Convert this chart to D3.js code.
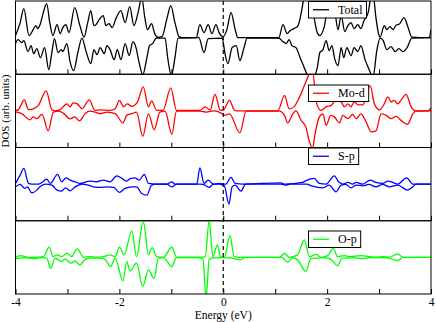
<!DOCTYPE html>
<html><head><meta charset="utf-8">
<script src="https://cdn.jsdelivr.net/npm/d3@7"></script>
<style>html,body{margin:0;padding:0;background:#fff;} svg{display:block;font-family:"Liberation Serif","Times New Roman",serif;}</style>
</head><body><svg id="c" width="436" height="322"></svg>
<script>
// ---------- data ----------
const xTicks = [-4, -3, -2, -1, 0, 1, 2, 3, 4];
const xLabels = [-4, -2, 0, 2, 4];
const panelNames = ["Total", "Mo-d", "S-p", "O-p"];
const panelColors = ["#000000", "#ff0000", "#0000ff", "#00ff00"];
const xTitle = "Energy (eV)";
const yTitle = "DOS (arb. units)";

// [energy (eV), DOS (arb. units)] ; "Down" arrays hold the spin-down magnitudes
const totalUp = [[-4.00,0.2],[-3.91,1.5],[-3.84,2.9],[-3.74,0.2],[-3.66,0.8],[-3.61,1.2],[-3.57,0.9],[-3.52,1.4],[-3.46,2.6],[-3.40,3.4],[-3.34,1.5],[-3.28,0.2],[-3.20,1.3],[-3.14,0.4],[-3.09,1.0],[-3.03,1.3],[-2.97,0.5],[-2.86,3.0],[-2.76,1.2],[-2.68,0.05],[-2.61,1.5],[-2.55,2.7],[-2.49,1.2],[-2.45,1.3],[-2.39,1.8],[-2.31,2.2],[-2.26,1.2],[-2.20,1.4],[-2.14,1.0],[-2.06,2.0],[-1.97,2.7],[-1.89,1.5],[-1.80,3.1],[-1.72,1.2],[-1.64,2.5],[-1.57,4.0],[-1.51,2.0],[-1.46,0.8],[-1.38,1.4],[-1.32,0.4],[-1.26,0.03],[-1.18,0.1],[-1.08,2.0],[-1.01,3.2],[-0.93,1.5],[-0.85,0.1],[-0.79,0],[-0.52,0],[-0.45,1.3],[-0.37,0.5],[-0.29,1.3],[-0.22,0.4],[-0.14,1.3],[-0.08,0.5],[0.00,0.1],[0.07,0.8],[0.15,2.5],[0.23,0.8],[0.28,0],[1.07,0],[1.15,1.3],[1.23,0.4],[1.29,0.7],[1.36,0.9],[1.44,1.2],[1.52,3.0],[1.57,4.5],[1.67,5.0],[1.75,2.0],[1.81,0.5],[1.86,0.2],[1.94,1.0],[2.02,3.0],[2.08,2.4],[2.13,3.0],[2.21,0.8],[2.27,2.2],[2.34,0.6],[2.40,1.2],[2.46,1.5],[2.52,0.9],[2.59,1.3],[2.65,0.9],[2.71,1.7],[2.79,2.5],[2.84,4.0],[2.88,4.5],[2.94,2.0],[3.00,0.2],[3.02,0.05],[3.10,1.2],[3.15,0.8],[3.21,1.1],[3.27,0.8],[3.32,1.2],[3.40,1.4],[3.48,2.0],[3.56,1.0],[3.63,0.05],[3.96,0],[4.00,0.8]];
const totalDown = [[-4.00,0.6],[-3.95,0.2],[-3.88,0.5],[-3.84,0.3],[-3.76,1.4],[-3.70,0.8],[-3.65,1.6],[-3.59,1.1],[-3.52,2.0],[-3.44,1.0],[-3.36,3.2],[-3.30,1.5],[-3.25,0.1],[-3.18,1.5],[-3.12,1.2],[-3.09,1.4],[-3.01,0.6],[-2.95,2.4],[-2.88,3.3],[-2.80,1.5],[-2.72,0.05],[-2.64,1.4],[-2.55,2.6],[-2.49,1.2],[-2.43,1.7],[-2.37,1.0],[-2.29,1.6],[-2.24,0.8],[-2.18,1.2],[-2.10,2.2],[-2.04,1.2],[-1.97,2.2],[-1.89,0.6],[-1.81,1.8],[-1.74,0.4],[-1.68,1.0],[-1.62,2.5],[-1.55,3.7],[-1.47,2.0],[-1.42,0.8],[-1.36,0.6],[-1.29,0.05],[-1.12,0.05],[-1.07,2.0],[-1.00,3.8],[-0.93,2.0],[-0.87,0.05],[-0.47,0],[-0.37,1.5],[-0.29,0.1],[-0.02,0.05],[0.03,1.5],[0.09,2.6],[0.17,1.0],[0.25,0.8],[0.32,2.3],[0.40,1.0],[0.46,0.05],[1.07,0.05],[1.15,0.4],[1.21,0.6],[1.27,0.2],[1.32,0.8],[1.40,1.0],[1.48,2.0],[1.56,3.0],[1.63,3.8],[1.73,4.0],[1.81,3.0],[1.86,1.5],[1.92,1.2],[1.98,0.3],[2.04,1.3],[2.09,0.8],[2.15,2.2],[2.21,2.8],[2.27,1.0],[2.32,2.0],[2.38,1.0],[2.46,1.8],[2.52,1.0],[2.59,1.4],[2.65,0.8],[2.73,2.2],[2.81,3.2],[2.88,4.0],[2.96,1.2],[3.02,0.05],[3.08,0.3],[3.15,1.2],[3.23,0.9],[3.31,1.4],[3.38,1.1],[3.46,1.4],[3.54,1.0],[3.63,0.05],[4.00,0]];
const modUp = [[-4.00,0.03],[-3.95,0.1],[-3.83,1.1],[-3.75,0.12],[-3.66,0.2],[-3.56,0.55],[-3.41,2.0],[-3.30,0.12],[-3.24,0],[-3.14,0.12],[-3.01,0.7],[-2.95,0.4],[-2.89,0.8],[-2.81,0.7],[-2.72,0.22],[-2.58,1.1],[-2.47,0.05],[-2.37,0.1],[-2.18,0.05],[-2.08,0.22],[-2.00,1.05],[-1.92,0.4],[-1.85,0.7],[-1.76,0.45],[-1.65,0.9],[-1.54,2.4],[-1.44,0.4],[-1.38,1.0],[-1.28,0.05],[-1.16,0.05],[-1.01,2.3],[-0.90,0.05],[-0.45,0.05],[-0.35,0.4],[-0.25,0.1],[-0.16,1.65],[-0.06,0.1],[0.00,0.05],[0.12,1.05],[0.21,0.1],[0.25,0],[1.05,0],[1.18,1.55],[1.27,0.2],[1.36,0.4],[1.47,1.4],[1.56,2.5],[1.66,3.7],[1.72,4.0],[1.79,0.9],[1.88,0.05],[1.98,0.4],[2.08,0.55],[2.17,1.05],[2.27,0.9],[2.33,0.4],[2.40,0.7],[2.46,0.4],[2.52,0.9],[2.60,0.6],[2.69,0.6],[2.75,1.55],[2.83,2.5],[2.91,0.7],[3.01,0.1],[3.10,0.7],[3.17,1.4],[3.23,0.9],[3.29,1.05],[3.36,0.7],[3.42,1.05],[3.52,1.65],[3.62,0.4],[3.70,0],[3.94,0],[4.00,0.3]];
const modDown = [[-4.00,0.1],[-3.88,0.28],[-3.72,0.9],[-3.66,0.6],[-3.59,0.78],[-3.49,0.35],[-3.37,2.0],[-3.27,0.12],[-3.17,0.02],[-3.08,0.22],[-2.95,0.8],[-2.86,0.6],[-2.77,1.0],[-2.66,0.3],[-2.58,0.02],[-2.47,0.12],[-2.37,0.28],[-2.24,0.12],[-2.08,0.28],[-1.93,1.2],[-1.86,0.45],[-1.76,0.28],[-1.67,0.12],[-1.55,2.55],[-1.44,0.3],[-1.33,1.9],[-1.22,0.12],[-1.12,0.02],[-0.99,2.35],[-0.90,0.02],[-0.45,0.02],[-0.32,0.12],[-0.19,0],[-0.04,0.22],[0.02,0.45],[0.12,0.3],[0.32,2.2],[0.44,0.02],[1.08,0.02],[1.18,0.45],[1.24,1.2],[1.34,0.3],[1.40,0],[1.50,0.95],[1.59,1.6],[1.66,3.1],[1.72,3.7],[1.77,2.25],[1.85,0.6],[1.92,0.3],[1.98,1.45],[2.07,0.45],[2.14,0.6],[2.24,1.2],[2.30,0.45],[2.40,0.78],[2.49,0.35],[2.56,0.78],[2.65,0.3],[2.75,1.1],[2.85,2.1],[2.94,2.0],[3.04,0.3],[3.14,0.45],[3.23,0.78],[3.33,0.55],[3.42,0.95],[3.55,1.35],[3.65,0.3],[3.71,0.02],[4.00,0]];
const spUp = [[-4.00,0.07],[-3.91,0.9],[-3.84,1.57],[-3.75,0.07],[-3.69,0],[-3.56,0],[-3.49,0.17],[-3.40,0.5],[-3.33,0.07],[-3.19,0.97],[-3.11,0.23],[-3.03,0.63],[-2.95,0.4],[-2.85,0.23],[-2.76,0.07],[-2.57,0.3],[-2.44,0.23],[-2.31,0.4],[-2.18,0.23],[-2.05,0.83],[-1.95,0.57],[-1.87,0.3],[-1.78,0.57],[-1.70,0.63],[-1.62,0.4],[-1.52,0.97],[-1.44,0.07],[-1.28,0],[-1.09,0],[-0.99,0.23],[-0.93,0],[-0.51,0],[-0.45,1.63],[-0.37,0.07],[-0.29,0.4],[-0.19,0],[-0.08,0.07],[0.05,0],[0.15,0.67],[0.23,0.07],[0.38,0],[1.11,0.13],[1.18,0],[1.53,0.17],[1.61,0.4],[1.75,0.57],[1.85,0.07],[1.98,0],[2.14,0.83],[2.22,0.23],[2.30,0],[2.40,0.17],[2.49,0],[2.56,0.17],[2.69,0],[2.83,0.4],[2.94,0.17],[3.07,0.07],[3.17,0.3],[3.26,0.17],[3.36,0],[3.53,0.63],[3.65,0],[4.00,0]];
const spDown = [[-4.00,0.27],[-3.91,0.03],[-3.82,0.43],[-3.77,0.27],[-3.69,0.87],[-3.59,0.6],[-3.53,0.27],[-3.43,0],[-3.30,0.1],[-3.20,0.6],[-3.11,0.7],[-3.04,0.37],[-2.95,0.67],[-2.85,0.27],[-2.72,0],[-2.60,0.1],[-2.50,0.27],[-2.37,0.33],[-2.24,0.27],[-2.11,0.33],[-2.00,0.83],[-1.89,0.43],[-1.76,0.27],[-1.67,0.27],[-1.57,0.93],[-1.47,1.1],[-1.38,0.1],[-1.28,0],[-1.09,0],[-0.99,0.27],[-0.90,0],[-0.45,0],[-0.35,0.1],[-0.27,0.33],[-0.19,0],[-0.08,0],[0.02,0.17],[0.11,2.0],[0.17,0.27],[0.23,0.1],[0.34,0.7],[0.43,0],[1.11,0],[1.21,0.1],[1.29,0],[1.61,0],[1.70,0.17],[1.92,0.37],[2.04,0.1],[2.17,0.77],[2.27,0.1],[2.36,0.03],[2.46,0.37],[2.56,0.1],[2.69,0.17],[2.80,0.03],[2.94,0.27],[3.07,0.03],[3.20,0.27],[3.36,0.1],[3.55,0.6],[3.65,0.27],[3.71,0],[4.00,0]];
const opUp = [[-4.00,0],[-3.91,0.18],[-3.82,0.08],[-3.72,0],[-3.59,0.02],[-3.46,0.08],[-3.35,1.02],[-3.28,0.08],[-3.19,0.25],[-3.11,0.08],[-3.01,0.42],[-2.92,0.08],[-2.81,0.85],[-2.69,0.02],[-2.57,0.08],[-2.44,0.02],[-2.31,0.08],[-2.18,0.25],[-2.08,0.08],[-2.00,1.02],[-1.91,0.25],[-1.76,2.65],[-1.67,0.08],[-1.54,3.6],[-1.44,0.25],[-1.37,0.98],[-1.28,0.08],[-1.15,0.02],[-0.99,1.02],[-0.90,0.02],[-0.45,0.02],[-0.35,0.05],[-0.27,3.65],[-0.20,0.05],[-0.11,1.25],[-0.05,0.05],[0.02,0.02],[0.13,2.18],[0.21,0.08],[0.32,0],[1.08,0],[1.18,0.4],[1.27,0],[1.43,0.25],[1.56,1.75],[1.66,0.08],[1.79,0.3],[1.88,0],[2.01,0.18],[2.12,0.9],[2.20,0.08],[2.33,0.18],[2.43,0.08],[2.65,0.18],[2.81,0.08],[2.94,0.02],[3.07,0.08],[3.20,0.02],[3.36,0.35],[3.46,0],[4.00,0]];
const opDown = [[-4.00,0.15],[-3.88,0.05],[-3.72,0.08],[-3.62,0.12],[-3.49,0.02],[-3.40,0.08],[-3.32,1.1],[-3.24,0.08],[-3.11,0.42],[-3.05,0.18],[-2.92,0.58],[-2.86,0.35],[-2.76,0.75],[-2.67,0.25],[-2.57,0.08],[-2.37,0.08],[-2.28,0.18],[-2.17,0.92],[-2.08,0.08],[-1.93,2.35],[-1.86,0.42],[-1.79,1.35],[-1.67,0.58],[-1.55,2.9],[-1.44,1.25],[-1.33,2.1],[-1.25,0.08],[-1.15,0.02],[-0.99,0.92],[-0.90,0.02],[-0.45,0.02],[-0.39,0.2],[-0.33,4.0],[-0.27,0.2],[-0.20,0.05],[-0.02,0.02],[0.13,0.05],[0.34,0.25],[0.42,0],[1.13,0],[1.24,0.5],[1.34,0.02],[1.43,0.25],[1.59,1.4],[1.69,0.1],[1.79,0.1],[1.92,0.02],[2.06,0.15],[2.20,0.83],[2.29,0.08],[2.36,0.08],[2.49,0.02],[2.69,0.15],[2.81,0.02],[3.07,0.02],[3.20,0.08],[3.36,0.32],[3.46,0],[4.00,0]];

// ---------- layout ----------
const FONT = "Liberation Serif";
const L = 15.5, R = 431, T = 1, B = 294;
const ph = (B - T) / 4;
const yLim = 3.66;
const legendOffset = [0.5, 10.75, 0.5, 10.25];
const legendHeight = 16.5;

const svg = d3.select("#c");
const x = d3.scaleLinear().domain([-4, 4]).range([L, R]);
const series = [[totalUp, totalDown], [modUp, modDown], [spUp, spDown], [opUp, opDown]];
const panelTops = series.map((s, i) => T + i * ph);

series.forEach((s, i) => {
  const top = panelTops[i];
  const y = d3.scaleLinear().domain([-yLim, yLim]).range([top + ph, top]);
  const clipId = "clip" + i;
  svg.append("clipPath").attr("id", clipId).append("rect")
    .attr("x", L).attr("y", top).attr("width", R - L).attr("height", ph);
  const g = svg.append("g").attr("clip-path", `url(#${clipId})`);
  const up = d3.line().x(d => x(d[0])).y(d => y(d[1])).curve(d3.curveMonotoneX);
  const dn = d3.line().x(d => x(d[0])).y(d => y(-d[1])).curve(d3.curveMonotoneX);
  g.append("path").attr("d", up(s[0])).attr("fill", "none").attr("stroke", panelColors[i]).attr("stroke-width", 1.3);
  g.append("path").attr("d", dn(s[1])).attr("fill", "none").attr("stroke", panelColors[i]).attr("stroke-width", 1.3);

  // inward ticks on panel bottom
  svg.append("g").attr("transform", `translate(0,${top + ph})`)
    .call(d3.axisTop(x).tickValues(xTicks).tickSize(5).tickFormat(""))
    .call(a => a.select(".domain").remove())
    .call(a => a.selectAll("line").attr("stroke", "#000"));

  svg.append("rect").attr("x", L).attr("y", top).attr("width", R - L).attr("height", ph)
    .attr("fill", "none").attr("stroke", "#000").attr("stroke-width", 1);
});

// Fermi level
svg.append("line").attr("x1", x(0)).attr("x2", x(0)).attr("y1", T).attr("y2", B)
  .attr("stroke", "#000").attr("stroke-width", 1.2).attr("stroke-dasharray", "4,3");

// legends
series.forEach((s, i) => {
  const by = panelTops[i] + legendOffset[i];
  const lg = svg.append("g");
  const box = lg.append("rect").attr("x", 308.5).attr("y", by).attr("height", legendHeight)
    .attr("fill", "#fff").attr("stroke", "#000").attr("stroke-width", 1);
  lg.append("line").attr("x1", 313).attr("x2", 329).attr("y1", by + legendHeight / 2).attr("y2", by + legendHeight / 2)
    .attr("stroke", panelColors[i]).attr("stroke-width", 1.3);
  const t = lg.append("text").attr("x", 338).attr("y", by + legendHeight / 2 + 4)
    .attr("font-family", FONT).attr("font-size", 12).attr("fill", "#000").text(panelNames[i]);
  const w = t.node().getComputedTextLength();
  box.attr("width", 338 + w + 4 - 308.5);
});

// x tick labels
svg.append("g").attr("transform", `translate(0,${B})`)
  .call(d3.axisBottom(x).tickValues(xLabels).tickSize(0).tickPadding(4).tickFormat(d => String(d)))
  .call(a => a.select(".domain").remove())
  .call(a => a.selectAll("text").attr("font-size", 11.5).attr("font-family", FONT).attr("fill", "#000"));

// axis titles
svg.append("text").attr("x", (L + R) / 2).attr("y", 318.5).attr("text-anchor", "middle")
  .attr("font-family", FONT).attr("font-size", 11.5).text(xTitle);
svg.append("text").attr("transform", "translate(8.5,111) rotate(-90)").attr("text-anchor", "middle")
  .attr("font-family", FONT).attr("font-size", 11).text(yTitle);
</script></body></html>
